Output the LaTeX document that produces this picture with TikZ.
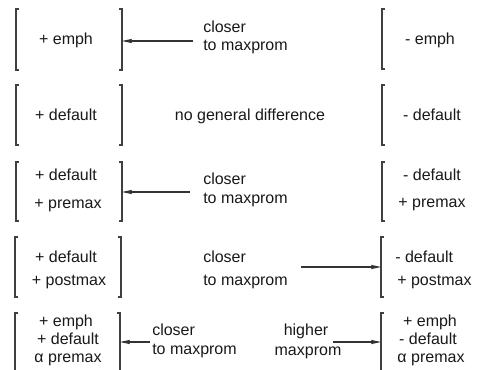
\documentclass[tikz,border=0pt]{standalone}
\usepackage{fontspec}
\setmainfont{Liberation Sans}
\usetikzlibrary{arrows.meta}
\tikzset{
  lbl/.style={font=\fontsize{12}{14}\selectfont, inner sep=0pt, anchor=mid, text=black!90},
  lblw/.style={lbl, anchor=mid west},
  brk/.style={draw=black!75, line width=0.8pt},
  arr/.style={-{Stealth[length=7.5pt,width=3.2pt,inset=1pt]}, draw=black!80, line width=0.8pt}
}
\newcommand\brkL[3]{\draw[brk] (#1+3,#2) -- (#1,#2) -- (#1,#3) -- (#1+3,#3);}
\newcommand\brkR[3]{\draw[brk] (#1-3,#2) -- (#1,#2) -- (#1,#3) -- (#1-3,#3);}
\begin{document}
\begin{tikzpicture}[x=0.75pt,y=-0.75pt]
\useasboundingbox (0,0) rectangle (478,370);
% ---- row 1
\brkL{16}{9}{70}\brkR{122}{9}{70}\brkL{382}{9}{69}
\node[lbl] (a1) at (66,41) {+ emph};
\node[lbl] (b1) at (430,41) {- emph};
\node[lblw] (c1a) at (203,29) {closer};
\node[lblw] (c1b) at (203,47) {to maxprom};
\coordinate (s1) at (193,41);
\coordinate (e1) at (122,41);
\draw[arr] (s1) -- (e1);
% ---- row 2
\brkL{16}{85}{145}\brkR{122}{85}{145}\brkL{382}{85}{145}
\node[lbl] (a2) at (66,117) {+ default};
\node[lbl] (b2) at (432,117) {- default};
\node[lbl] (c2) at (250,117) {no general difference};
% ---- row 3
\brkL{16}{162}{221}\brkR{122}{162}{221}\brkL{382}{162}{221}
\node[lbl] (a3a) at (66,177) {+ default};
\node[lbl] (a3b) at (68,205) {+ premax};
\node[lbl] (b3a) at (432,177) {- default};
\node[lbl] (b3b) at (432,204) {+ premax};
\node[lblw] (c3a) at (203,181) {closer};
\node[lblw] (c3b) at (203,200) {to maxprom};
\coordinate (s3) at (190,192);
\coordinate (e3) at (122,192);
\draw[arr] (s3) -- (e3);
% ---- row 4
\brkL{15}{237}{297}\brkR{121}{237}{297}\brkL{381}{237}{297}
\node[lbl] (a4a) at (66,259) {+ default};
\node[lbl] (a4b) at (69,282) {+ postmax};
\node[lblw] (b4a) at (395,259) {- default};
\node[lblw] (b4b) at (397,282) {+ postmax};
\node[lblw] (c4a) at (203,259) {closer};
\node[lblw] (c4b) at (203,282) {to maxprom};
\coordinate (s4) at (301,267);
\coordinate (e4) at (381,267);
\draw[arr] (s4) -- (e4);
% ---- row 5
\draw[brk] (18,313) -- (15,313) -- (15,370);
\draw[brk] (117,313) -- (120,313) -- (120,370);
\draw[brk] (384,313) -- (381,313) -- (381,370);
\node[lbl] (a5a) at (66,323) {+ emph};
\node[lbl] (a5b) at (68,341) {+ default};
\node[lbl] (a5c) at (68,359) {α premax};
\node[lbl] (b5a) at (430,323) {+ emph};
\node[lbl] (b5b) at (428,341) {- default};
\node[lbl] (b5c) at (431,359) {α premax};
\node[lblw] (c5a) at (152,332) {closer};
\node[lblw] (c5b) at (152,351) {to maxprom};
\node[lbl] (d5a) at (306,332) {higher};
\node[lbl] (d5b) at (308,352) {maxprom};
\coordinate (s5) at (150,342);
\coordinate (e5) at (120,342);
\draw[arr] (s5) -- (e5);
\coordinate (s6) at (333,342);
\coordinate (e6) at (381,342);
\draw[arr] (s6) -- (e6);
\end{tikzpicture}
\end{document}
